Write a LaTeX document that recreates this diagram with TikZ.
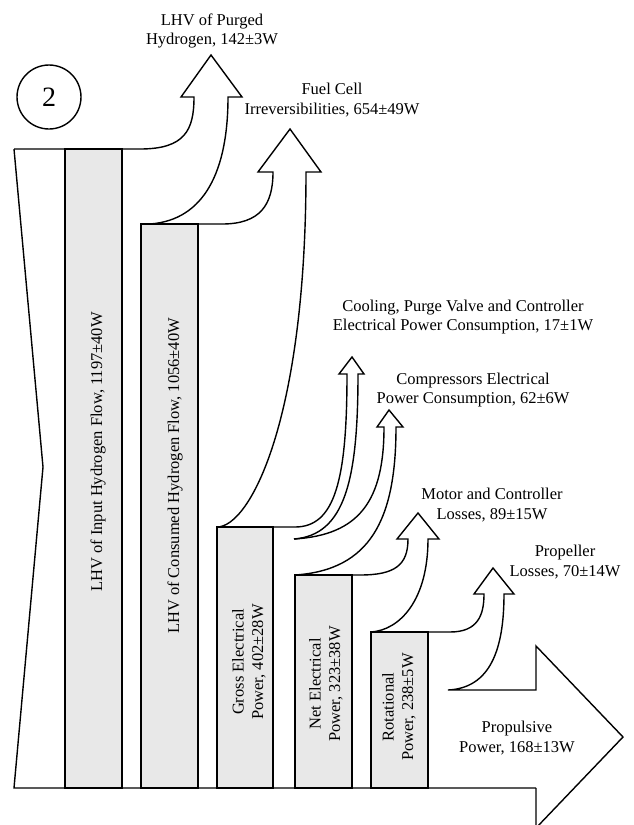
\documentclass[tikz,border=0pt]{standalone}
\usepackage{fontspec}
\setmainfont{Liberation Serif}
\tikzset{
  box/.style={draw,fill=black!9},
  lbl/.style={align=center,inner sep=0pt,font=\fontsize{16.5}{19.5}\selectfont},
  vlbl/.style={lbl,rotate=90}
}
\begin{document}
\begin{tikzpicture}[x=1pt,y=-1pt,line width=1.4pt]
\useasboundingbox (0,0) rectangle (634,825);
\draw[box] (65,149) rectangle (122,788);
\draw[box] (141,224) rectangle (198,788);
\draw[box] (217,527) rectangle (273,788);
\draw[box] (295,575) rectangle (352,788);
\draw[box] (371,632) rectangle (428,788);
\draw (14,149) -- (43,467) -- (14,788) -- (536,788);
\draw (14,149) -- (140,149) .. controls (185,149) and (194,130) .. (194,97) -- (181,97) -- (211,55) -- (242,97) -- (228,97) .. controls (228,170) and (205,220) .. (150,224) -- (141,224);
\draw (198,224) -- (222,224) .. controls (260,224) and (273,205) .. (273,172) -- (258,172) -- (290,129) -- (321,172) -- (306,172) .. controls (306,420) and (250,527) .. (217,527);
\draw (273,527) -- (295,527) .. controls (335,527) and (347,480) .. (347,374) -- (339,374) -- (352,357) -- (364,374) -- (358,374) .. controls (358,480) and (345,535) .. (294,539);
\draw (294,539) .. controls (360,535) and (384,500) .. (384,427) -- (377,427) -- (389,410) -- (403,427) -- (396,427) .. controls (396,520) and (370,570) .. (295,575);
\draw (352,575) -- (360,575) .. controls (395,575) and (408,565) .. (408,539) -- (397,539) -- (418,513) -- (439,539) -- (428,539) .. controls (428,600) and (400,630) .. (371,632);
\draw (428,632) -- (450,632) .. controls (478,632) and (484,615) .. (484,594) -- (474,594) -- (493,568) -- (514,594) -- (504,594) .. controls (504,650) and (490,688) .. (448,690) -- (536,690) -- (536,646) -- (623,737) -- (536,828) -- (536,788);
\node[draw,circle,minimum size=64pt,inner sep=0pt,font=\fontsize{28}{30}\selectfont] (case) at (49,97) {2};
\node[lbl] (purged) at (212,31) {LHV of Purged\\Hydrogen, 142±3W};
\node[lbl] (fuelcell) at (332,100) {Fuel Cell\\Irreversibilities, 654±49W};
\node[lbl] (cooling) at (463,317) {Cooling, Purge Valve and Controller\\Electrical Power Consumption, 17±1W};
\node[lbl] (compressors) at (473,390) {Compressors Electrical\\Power Consumption, 62±6W};
\node[lbl] (motor) at (492,505) {Motor and Controller\\Losses, 89±15W};
\node[lbl] (propeller) at (565,562) {Propeller\\Losses, 70±14W};
\node[lbl] (propulsive) at (517,738) {Propulsive\\Power, 168±13W};
\node[vlbl] (input) at (98,452) {LHV of Input Hydrogen Flow, 1197±40W};
\node[vlbl] (consumed) at (175,476) {LHV of Consumed Hydrogen Flow, 1056±40W};
\node[vlbl] (gross) at (249,662) {Gross Electrical\\Power, 402±28W};
\node[vlbl] (net) at (326,684) {Net Electrical\\Power, 323±38W};
\node[vlbl] (rotational) at (399,707) {Rotational\\Power, 238±5W};
\end{tikzpicture}
\end{document}
